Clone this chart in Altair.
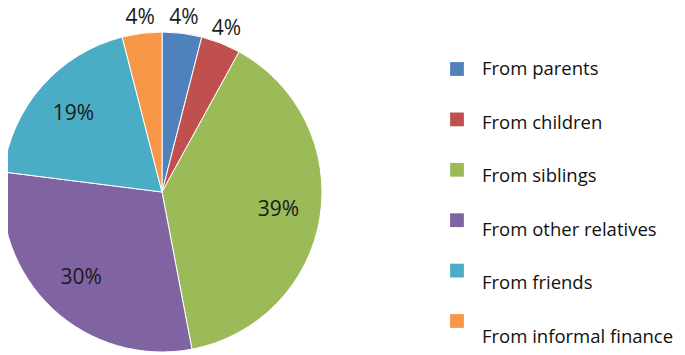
import altair as alt
import pandas as pd

categories = ["From parents", "From children", "From siblings",
              "From other relatives", "From friends", "From informal finance"]
shares = [4, 4, 39, 30, 19, 4]
labels = ["4%", "4%", "39%", "30%", "19%", "4%"]
colors = ["#4F81BD", "#C0504D", "#9BBB59", "#8064A2", "#4BACC6", "#F79646"]

df = pd.DataFrame({"cat": categories, "share": shares, "label": labels,
                   "idx": list(range(len(categories)))})
df["inside"] = df["share"] > 10

cx, cy, R = 154, 184, 160
color_scale = alt.Scale(domain=categories, range=colors)

base = alt.Chart(df).encode(
    theta=alt.Theta("share:Q", stack=True),
    order=alt.Order("idx:Q"),
    x=alt.value(cx), y=alt.value(cy),
)

pie = base.mark_arc(radius=R, stroke="white", strokeWidth=1).encode(
    color=alt.Color("cat:N", sort=categories, scale=color_scale, legend=None)
)

txt_out = base.mark_text(radius=175, fontSize=21, font="Open Sans", color="#1a1a1a").encode(
    text="label:N",
    opacity=alt.condition("datum.inside", alt.value(0), alt.value(1)),
)
txt_in = base.mark_text(radius=118, fontSize=21, font="Open Sans", color="#1a1a1a").encode(
    text="label:N",
    opacity=alt.condition("datum.inside", alt.value(1), alt.value(0)),
)

# manual legend
leg_sq = alt.Chart(df).mark_square(size=190, opacity=1).encode(
    x=alt.value(449),
    y=alt.Y("idx:Q", scale=alt.Scale(domain=[0, 5], range=[61, 313]), axis=None),
    color=alt.Color("cat:N", sort=categories, scale=color_scale, legend=None),
)
leg_txt = alt.Chart(df).mark_text(
    align="left", baseline="middle", fontSize=18.5, font="Open Sans", color="#111"
).encode(
    x=alt.value(474),
    y=alt.Y("idx:Q", scale=alt.Scale(domain=[0, 5], range=[61, 329]), axis=None),
    text="cat:N",
)

chart = alt.layer(pie, txt_out, txt_in, leg_sq, leg_txt).resolve_scale(
    y="independent"
).properties(
    width=669, height=347, padding=0,
    autosize=alt.AutoSizeParams(type="none"),
).configure_view(stroke=None)

chart.save("out.html", embed_options={"renderer": "svg", "actions": False})
